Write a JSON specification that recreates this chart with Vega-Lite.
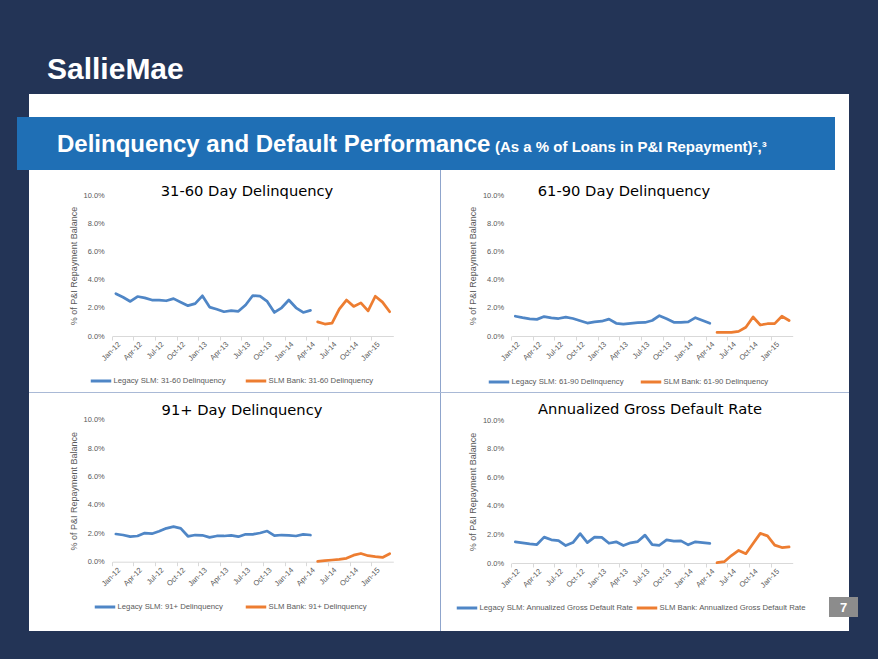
{
  "$schema": "https://vega.github.io/schema/vega-lite/v6.json",
  "background": "#233456",
  "padding": {"left": 17, "top": 55, "right": 20, "bottom": 28},
  "spacing": 0,
  "title": {"text": "SallieMae", "anchor": "start", "frame": "group", "dx": 30, "offset": 9, "fontSize": 30, "font": "Liberation Sans", "fontWeight": "bold", "color": "white"},
  "resolve": {"scale": {"color": "independent"}, "legend": {"color": "independent"}},
  "datasets": {
    "p1": [
      {"m":"Jan-12","s":"Legacy","v":3.0},{"m":"Feb-12","s":"Legacy","v":2.75},{"m":"Mar-12","s":"Legacy","v":2.45},{"m":"Apr-12","s":"Legacy","v":2.8},{"m":"May-12","s":"Legacy","v":2.7},{"m":"Jun-12","s":"Legacy","v":2.55},{"m":"Jul-12","s":"Legacy","v":2.55},{"m":"Aug-12","s":"Legacy","v":2.5},{"m":"Sep-12","s":"Legacy","v":2.65},{"m":"Oct-12","s":"Legacy","v":2.4},{"m":"Nov-12","s":"Legacy","v":2.15},{"m":"Dec-12","s":"Legacy","v":2.3},
      {"m":"Jan-13","s":"Legacy","v":2.85},{"m":"Feb-13","s":"Legacy","v":2.05},{"m":"Mar-13","s":"Legacy","v":1.9},{"m":"Apr-13","s":"Legacy","v":1.72},{"m":"May-13","s":"Legacy","v":1.8},{"m":"Jun-13","s":"Legacy","v":1.75},{"m":"Jul-13","s":"Legacy","v":2.2},{"m":"Aug-13","s":"Legacy","v":2.87},{"m":"Sep-13","s":"Legacy","v":2.82},{"m":"Oct-13","s":"Legacy","v":2.45},{"m":"Nov-13","s":"Legacy","v":1.67},{"m":"Dec-13","s":"Legacy","v":2.0},
      {"m":"Jan-14","s":"Legacy","v":2.55},{"m":"Feb-14","s":"Legacy","v":2.0},{"m":"Mar-14","s":"Legacy","v":1.67},{"m":"Apr-14","s":"Legacy","v":1.82},
      {"m":"May-14","s":"Bank","v":1.0},{"m":"Jun-14","s":"Bank","v":0.85},{"m":"Jul-14","s":"Bank","v":0.92},{"m":"Aug-14","s":"Bank","v":1.9},{"m":"Sep-14","s":"Bank","v":2.55},{"m":"Oct-14","s":"Bank","v":2.1},{"m":"Nov-14","s":"Bank","v":2.35},{"m":"Dec-14","s":"Bank","v":1.78},{"m":"Jan-15","s":"Bank","v":2.82},{"m":"Feb-15","s":"Bank","v":2.4},{"m":"Mar-15","s":"Bank","v":1.72}
    ],
    "p2": [
      {"m":"Jan-12","s":"Legacy","v":1.4},{"m":"Feb-12","s":"Legacy","v":1.3},{"m":"Mar-12","s":"Legacy","v":1.22},{"m":"Apr-12","s":"Legacy","v":1.18},{"m":"May-12","s":"Legacy","v":1.38},{"m":"Jun-12","s":"Legacy","v":1.28},{"m":"Jul-12","s":"Legacy","v":1.24},{"m":"Aug-12","s":"Legacy","v":1.34},{"m":"Sep-12","s":"Legacy","v":1.24},{"m":"Oct-12","s":"Legacy","v":1.08},{"m":"Nov-12","s":"Legacy","v":0.92},{"m":"Dec-12","s":"Legacy","v":1.0},
      {"m":"Jan-13","s":"Legacy","v":1.05},{"m":"Feb-13","s":"Legacy","v":1.2},{"m":"Mar-13","s":"Legacy","v":0.9},{"m":"Apr-13","s":"Legacy","v":0.85},{"m":"May-13","s":"Legacy","v":0.9},{"m":"Jun-13","s":"Legacy","v":0.95},{"m":"Jul-13","s":"Legacy","v":0.96},{"m":"Aug-13","s":"Legacy","v":1.1},{"m":"Sep-13","s":"Legacy","v":1.44},{"m":"Oct-13","s":"Legacy","v":1.22},{"m":"Nov-13","s":"Legacy","v":0.97},{"m":"Dec-13","s":"Legacy","v":0.97},
      {"m":"Jan-14","s":"Legacy","v":1.0},{"m":"Feb-14","s":"Legacy","v":1.3},{"m":"Mar-14","s":"Legacy","v":1.1},{"m":"Apr-14","s":"Legacy","v":0.9},
      {"m":"May-14","s":"Bank","v":0.25},{"m":"Jun-14","s":"Bank","v":0.25},{"m":"Jul-14","s":"Bank","v":0.26},{"m":"Aug-14","s":"Bank","v":0.33},{"m":"Sep-14","s":"Bank","v":0.62},{"m":"Oct-14","s":"Bank","v":1.35},{"m":"Nov-14","s":"Bank","v":0.78},{"m":"Dec-14","s":"Bank","v":0.87},{"m":"Jan-15","s":"Bank","v":0.88},{"m":"Feb-15","s":"Bank","v":1.4},{"m":"Mar-15","s":"Bank","v":1.1}
    ],
    "p3": [
      {"m":"Jan-12","s":"Legacy","v":1.95},{"m":"Feb-12","s":"Legacy","v":1.88},{"m":"Mar-12","s":"Legacy","v":1.76},{"m":"Apr-12","s":"Legacy","v":1.81},{"m":"May-12","s":"Legacy","v":2.02},{"m":"Jun-12","s":"Legacy","v":1.97},{"m":"Jul-12","s":"Legacy","v":2.14},{"m":"Aug-12","s":"Legacy","v":2.35},{"m":"Sep-12","s":"Legacy","v":2.47},{"m":"Oct-12","s":"Legacy","v":2.35},{"m":"Nov-12","s":"Legacy","v":1.79},{"m":"Dec-12","s":"Legacy","v":1.88},
      {"m":"Jan-13","s":"Legacy","v":1.86},{"m":"Feb-13","s":"Legacy","v":1.71},{"m":"Mar-13","s":"Legacy","v":1.81},{"m":"Apr-13","s":"Legacy","v":1.81},{"m":"May-13","s":"Legacy","v":1.86},{"m":"Jun-13","s":"Legacy","v":1.76},{"m":"Jul-13","s":"Legacy","v":1.93},{"m":"Aug-13","s":"Legacy","v":1.93},{"m":"Sep-13","s":"Legacy","v":2.02},{"m":"Oct-13","s":"Legacy","v":2.16},{"m":"Nov-13","s":"Legacy","v":1.83},{"m":"Dec-13","s":"Legacy","v":1.88},
      {"m":"Jan-14","s":"Legacy","v":1.86},{"m":"Feb-14","s":"Legacy","v":1.81},{"m":"Mar-14","s":"Legacy","v":1.93},{"m":"Apr-14","s":"Legacy","v":1.88},
      {"m":"May-14","s":"Bank","v":0.02},{"m":"Jun-14","s":"Bank","v":0.07},{"m":"Jul-14","s":"Bank","v":0.12},{"m":"Aug-14","s":"Bank","v":0.17},{"m":"Sep-14","s":"Bank","v":0.24},{"m":"Oct-14","s":"Bank","v":0.46},{"m":"Nov-14","s":"Bank","v":0.58},{"m":"Dec-14","s":"Bank","v":0.42},{"m":"Jan-15","s":"Bank","v":0.35},{"m":"Feb-15","s":"Bank","v":0.3},{"m":"Mar-15","s":"Bank","v":0.56}
    ],
    "p4": [
      {"m":"Jan-12","s":"Legacy","v":1.48},{"m":"Feb-12","s":"Legacy","v":1.41},{"m":"Mar-12","s":"Legacy","v":1.34},{"m":"Apr-12","s":"Legacy","v":1.29},{"m":"May-12","s":"Legacy","v":1.81},{"m":"Jun-12","s":"Legacy","v":1.62},{"m":"Jul-12","s":"Legacy","v":1.57},{"m":"Aug-12","s":"Legacy","v":1.22},{"m":"Sep-12","s":"Legacy","v":1.43},{"m":"Oct-12","s":"Legacy","v":2.05},{"m":"Nov-12","s":"Legacy","v":1.43},{"m":"Dec-12","s":"Legacy","v":1.81},
      {"m":"Jan-13","s":"Legacy","v":1.79},{"m":"Feb-13","s":"Legacy","v":1.38},{"m":"Mar-13","s":"Legacy","v":1.48},{"m":"Apr-13","s":"Legacy","v":1.22},{"m":"May-13","s":"Legacy","v":1.41},{"m":"Jun-13","s":"Legacy","v":1.5},{"m":"Jul-13","s":"Legacy","v":1.95},{"m":"Aug-13","s":"Legacy","v":1.29},{"m":"Sep-13","s":"Legacy","v":1.24},{"m":"Oct-13","s":"Legacy","v":1.62},{"m":"Nov-13","s":"Legacy","v":1.53},{"m":"Dec-13","s":"Legacy","v":1.55},
      {"m":"Jan-14","s":"Legacy","v":1.27},{"m":"Feb-14","s":"Legacy","v":1.48},{"m":"Mar-14","s":"Legacy","v":1.43},{"m":"Apr-14","s":"Legacy","v":1.38},
      {"m":"May-14","s":"Bank","v":0.02},{"m":"Jun-14","s":"Bank","v":0.09},{"m":"Jul-14","s":"Bank","v":0.52},{"m":"Aug-14","s":"Bank","v":0.88},{"m":"Sep-14","s":"Bank","v":0.65},{"m":"Oct-14","s":"Bank","v":1.36},{"m":"Nov-14","s":"Bank","v":2.07},{"m":"Dec-14","s":"Bank","v":1.9},{"m":"Jan-15","s":"Bank","v":1.25},{"m":"Feb-15","s":"Bank","v":1.08},{"m":"Mar-15","s":"Bank","v":1.12}
    ]
  },
  "vconcat": [
    {
      "hconcat": [
        {"width": 12, "height": 23, "data": {"values": []}, "mark": "rect"},
        {"width": 820, "height": 23, "data": {"values": []}, "mark": "rect", "view": {"fill": "white", "stroke": null}}
      ],
      "spacing": 0, "bounds": "flush"
    },
    {
      "hconcat": [
        {"width": 476, "height": 53, "data": {"values": []}, "mark": "rect", "view": {"fill": "#1f6fb5", "stroke": null},
         "title": {"text": "Delinquency and Default Performance", "anchor": "start", "frame": "group", "dx": 40, "offset": -59, "baseline": "alphabetic", "font": "Liberation Sans", "fontSize": 24, "fontWeight": "bold", "color": "white"}},
        {"width": 342, "height": 53, "data": {"values": []}, "mark": "rect", "view": {"fill": "#1f6fb5", "stroke": null},
         "title": {"text": "(As a % of Loans in P&I Repayment)²,³", "anchor": "start", "frame": "group", "dx": 2, "offset": -49.7, "baseline": "alphabetic", "font": "Liberation Sans", "fontSize": 15, "fontWeight": "bold", "color": "white"}},
        {"width": 14, "height": 53, "data": {"values": []}, "mark": "rect", "view": {"fill": "white", "stroke": null}}
      ],
      "spacing": 0, "bounds": "flush"
    },
    {
      "hconcat": [
        {"width": 12, "height": 222, "data": {"values": []}, "mark": "rect"},
        {
          "width": 411, "height": 222,
          "view": {"fill": "white", "stroke": null},
          "title": {"text": "31-60 Day Delinquency", "anchor": "middle", "frame": "group", "dx": 12.5, "offset": -36.4, "baseline": "middle", "font": "DejaVu Sans", "fontSize": 14.7, "fontWeight": "normal", "color": "#000000"},
          "data": {"name": "p1"},
          "mark": {"type": "line", "strokeWidth": 2.75, "strokeJoin": "round", "strokeCap": "round"},
          "encoding": {
            "x": {"field": "m", "type": "ordinal",
                  "scale": {"type": "band", "domain": ["Jan-12","Feb-12","Mar-12","Apr-12","May-12","Jun-12","Jul-12","Aug-12","Sep-12","Oct-12","Nov-12","Dec-12","Jan-13","Feb-13","Mar-13","Apr-13","May-13","Jun-13","Jul-13","Aug-13","Sep-13","Oct-13","Nov-13","Dec-13","Jan-14","Feb-14","Mar-14","Apr-14","May-14","Jun-14","Jul-14","Aug-14","Sep-14","Oct-14","Nov-14","Dec-14","Jan-15","Feb-15","Mar-15"], "range": [83.3, 364.3], "paddingInner": 0, "paddingOuter": 0},
                  "axis": {"orient": "bottom", "offset": -56, "values": ["Jan-12","Apr-12","Jul-12","Oct-12","Jan-13","Apr-13","Jul-13","Oct-13","Jan-14","Apr-14","Jul-14","Oct-14","Jan-15"], "bandPosition": 0, "labelOffset": 3.6, "labelAngle": -45, "labelAlign": "right", "labelBaseline": "middle", "labelPadding": 3, "tickSize": 4, "labelOverlap": false, "title": null}},
            "y": {"field": "v", "type": "quantitative",
                  "scale": {"domain": [0, 10], "range": [166, 25], "nice": false},
                  "axis": {"orient": "left", "offset": -83.3, "values": [0, 2, 4, 6, 8, 10], "labelExpr": "format(datum.value, '.1f') + '%'", "ticks": false, "domain": false, "labelPadding": 8, "title": "% of P&I Repayment Balance", "titlePadding": 5}},
            "color": {"field": "s", "type": "nominal",
                      "scale": {"domain": ["Legacy", "Bank"], "range": ["#4f86c6", "#ed7d31"]},
                      "legend": {"orient": "none", "legendX": 60, "legendY": 199, "direction": "horizontal", "title": null, "columnPadding": 13, "labelExpr": "datum.label == 'Legacy' ? 'Legacy SLM: 31-60 Delinquency' : 'SLM Bank: 31-60 Delinquency'"}}
          }
        },
        {"width": 1, "height": 222, "data": {"values": []}, "mark": "rect", "view": {"fill": "#8fa5cc", "stroke": null}},
        {
          "width": 408, "height": 222,
          "view": {"fill": "white", "stroke": null},
          "title": {"text": "61-90 Day Delinquency", "anchor": "middle", "frame": "group", "dx": -21, "offset": -36.4, "baseline": "middle", "font": "DejaVu Sans", "fontSize": 14.7, "fontWeight": "normal", "color": "#000000"},
          "data": {"name": "p2"},
          "mark": {"type": "line", "strokeWidth": 2.75, "strokeJoin": "round", "strokeCap": "round"},
          "encoding": {
            "x": {"field": "m", "type": "ordinal",
                  "scale": {"type": "band", "domain": ["Jan-12","Feb-12","Mar-12","Apr-12","May-12","Jun-12","Jul-12","Aug-12","Sep-12","Oct-12","Nov-12","Dec-12","Jan-13","Feb-13","Mar-13","Apr-13","May-13","Jun-13","Jul-13","Aug-13","Sep-13","Oct-13","Nov-13","Dec-13","Jan-14","Feb-14","Mar-14","Apr-14","May-14","Jun-14","Jul-14","Aug-14","Sep-14","Oct-14","Nov-14","Dec-14","Jan-15","Feb-15","Mar-15"], "range": [70.7, 351.7], "paddingInner": 0, "paddingOuter": 0},
                  "axis": {"orient": "bottom", "offset": -56, "values": ["Jan-12","Apr-12","Jul-12","Oct-12","Jan-13","Apr-13","Jul-13","Oct-13","Jan-14","Apr-14","Jul-14","Oct-14","Jan-15"], "bandPosition": 0, "labelOffset": 3.6, "labelAngle": -45, "labelAlign": "right", "labelBaseline": "middle", "labelPadding": 3, "tickSize": 4, "labelOverlap": false, "title": null}},
            "y": {"field": "v", "type": "quantitative",
                  "scale": {"domain": [0, 10], "range": [166, 25], "nice": false},
                  "axis": {"orient": "left", "offset": -70.7, "values": [0, 2, 4, 6, 8, 10], "labelExpr": "format(datum.value, '.1f') + '%'", "ticks": false, "domain": false, "labelPadding": 8, "title": "% of P&I Repayment Balance", "titlePadding": 5}},
            "color": {"field": "s", "type": "nominal",
                      "scale": {"domain": ["Legacy", "Bank"], "range": ["#4f86c6", "#ed7d31"]},
                      "legend": {"orient": "none", "legendX": 46, "legendY": 200, "direction": "horizontal", "title": null, "columnPadding": 10, "labelExpr": "datum.label == 'Legacy' ? 'Legacy SLM: 61-90 Delinquency' : 'SLM Bank: 61-90 Delinquency'"}}
          }
        }
      ],
      "spacing": 0, "bounds": "flush",
      "resolve": {"scale": {"color": "independent"}, "legend": {"color": "independent"}}
    },
    {
      "hconcat": [
        {"width": 12, "height": 1, "data": {"values": []}, "mark": "rect"},
        {"width": 820, "height": 1, "data": {"values": []}, "mark": "rect", "view": {"fill": "#a9b9d6", "stroke": null}}
      ],
      "spacing": 0, "bounds": "flush"
    },
    {
      "hconcat": [
        {"width": 12, "height": 238, "data": {"values": []}, "mark": "rect"},
        {
          "width": 411, "height": 238,
          "view": {"fill": "white", "stroke": null},
          "title": {"text": "91+ Day Delinquency", "anchor": "middle", "frame": "group", "dx": 7.5, "offset": -32.2, "baseline": "middle", "font": "DejaVu Sans", "fontSize": 14.7, "fontWeight": "normal", "color": "#000000"},
          "data": {"name": "p3"},
          "mark": {"type": "line", "strokeWidth": 2.75, "strokeJoin": "round", "strokeCap": "round"},
          "encoding": {
            "x": {"field": "m", "type": "ordinal",
                  "scale": {"type": "band", "domain": ["Jan-12","Feb-12","Mar-12","Apr-12","May-12","Jun-12","Jul-12","Aug-12","Sep-12","Oct-12","Nov-12","Dec-12","Jan-13","Feb-13","Mar-13","Apr-13","May-13","Jun-13","Jul-13","Aug-13","Sep-13","Oct-13","Nov-13","Dec-13","Jan-14","Feb-14","Mar-14","Apr-14","May-14","Jun-14","Jul-14","Aug-14","Sep-14","Oct-14","Nov-14","Dec-14","Jan-15","Feb-15","Mar-15"], "range": [83.3, 364.3], "paddingInner": 0, "paddingOuter": 0},
                  "axis": {"orient": "bottom", "offset": -69.3, "values": ["Jan-12","Apr-12","Jul-12","Oct-12","Jan-13","Apr-13","Jul-13","Oct-13","Jan-14","Apr-14","Jul-14","Oct-14","Jan-15"], "bandPosition": 0, "labelOffset": 3.6, "labelAngle": -45, "labelAlign": "right", "labelBaseline": "middle", "labelPadding": 3, "tickSize": 4, "labelOverlap": false, "title": null}},
            "y": {"field": "v", "type": "quantitative",
                  "scale": {"domain": [0, 10], "range": [168.7, 26.7], "nice": false},
                  "axis": {"orient": "left", "offset": -83.3, "values": [0, 2, 4, 6, 8, 10], "labelExpr": "format(datum.value, '.1f') + '%'", "ticks": false, "domain": false, "labelPadding": 8, "title": "% of P&I Repayment Balance", "titlePadding": 5}},
            "color": {"field": "s", "type": "nominal",
                      "scale": {"domain": ["Legacy", "Bank"], "range": ["#4f86c6", "#ed7d31"]},
                      "legend": {"orient": "none", "legendX": 64, "legendY": 202, "direction": "horizontal", "title": null, "columnPadding": 16, "labelExpr": "datum.label == 'Legacy' ? 'Legacy SLM: 91+ Delinquency' : 'SLM Bank: 91+ Delinquency'"}}
          }
        },
        {"width": 1, "height": 238, "data": {"values": []}, "mark": "rect", "view": {"fill": "#8fa5cc", "stroke": null}},
        {
          "width": 388, "height": 238,
          "view": {"fill": "white", "stroke": null},
          "title": {"text": "Annualized Gross Default Rate", "anchor": "middle", "frame": "group", "dx": 15, "offset": -31.7, "baseline": "middle", "font": "DejaVu Sans", "fontSize": 14.7, "fontWeight": "normal", "color": "#000000"},
          "data": {"name": "p4"},
          "mark": {"type": "line", "strokeWidth": 2.75, "strokeJoin": "round", "strokeCap": "round"},
          "encoding": {
            "x": {"field": "m", "type": "ordinal",
                  "scale": {"type": "band", "domain": ["Jan-12","Feb-12","Mar-12","Apr-12","May-12","Jun-12","Jul-12","Aug-12","Sep-12","Oct-12","Nov-12","Dec-12","Jan-13","Feb-13","Mar-13","Apr-13","May-13","Jun-13","Jul-13","Aug-13","Sep-13","Oct-13","Nov-13","Dec-13","Jan-14","Feb-14","Mar-14","Apr-14","May-14","Jun-14","Jul-14","Aug-14","Sep-14","Oct-14","Nov-14","Dec-14","Jan-15","Feb-15","Mar-15"], "range": [70.7, 351.7], "paddingInner": 0, "paddingOuter": 0},
                  "axis": {"orient": "bottom", "offset": -68, "values": ["Jan-12","Apr-12","Jul-12","Oct-12","Jan-13","Apr-13","Jul-13","Oct-13","Jan-14","Apr-14","Jul-14","Oct-14","Jan-15"], "bandPosition": 0, "labelOffset": 3.6, "labelAngle": -45, "labelAlign": "right", "labelBaseline": "middle", "labelPadding": 3, "tickSize": 4, "labelOverlap": false, "title": null}},
            "y": {"field": "v", "type": "quantitative",
                  "scale": {"domain": [0, 10], "range": [170, 27], "nice": false},
                  "axis": {"orient": "left", "offset": -70.7, "values": [0, 2, 4, 6, 8, 10], "labelExpr": "format(datum.value, '.1f') + '%'", "ticks": false, "domain": false, "labelPadding": 8, "title": "% of P&I Repayment Balance", "titlePadding": 5}},
            "color": {"field": "s", "type": "nominal",
                      "scale": {"domain": ["Legacy", "Bank"], "range": ["#4f86c6", "#ed7d31"]},
                      "legend": {"orient": "none", "legendX": 14, "legendY": 203, "direction": "horizontal", "title": null, "columnPadding": -4, "labelExpr": "datum.label == 'Legacy' ? 'Legacy SLM: Annualized Gross Default Rate' : 'SLM Bank: Annualized Gross Default Rate'"}}
          }
        },
        {
          "vconcat": [
            {"hconcat": [
              {"width": 20, "height": 204, "data": {"values": []}, "mark": "rect", "view": {"fill": "white", "stroke": null}},
              {"width": 9, "height": 204, "data": {"values": []}, "mark": "rect"}
            ], "spacing": 0, "bounds": "flush"},
            {"width": 29, "height": 20, "data": {"values": []}, "mark": "rect", "view": {"fill": "#8c8c8c", "stroke": null},
             "title": {"text": "7", "anchor": "middle", "frame": "group", "offset": -23.9, "baseline": "middle", "font": "Liberation Sans", "fontSize": 13, "fontWeight": "bold", "color": "white"}},
            {"hconcat": [
              {"width": 20, "height": 14, "data": {"values": []}, "mark": "rect", "view": {"fill": "white", "stroke": null}},
              {"width": 9, "height": 14, "data": {"values": []}, "mark": "rect"}
            ], "spacing": 0, "bounds": "flush"}
          ],
          "spacing": 0
        }
      ],
      "spacing": 0,
      "resolve": {"scale": {"color": "independent"}, "legend": {"color": "independent"}}
    }
  ],
  "config": {
    "view": {"stroke": null},
    "concat": {"spacing": 0},
    "axis": {"labelFont": "Liberation Sans", "labelFontSize": 7.5, "labelColor": "#595959", "titleFont": "Liberation Sans", "titleFontSize": 9, "titleFontWeight": "normal", "titleColor": "#595959", "domainColor": "#d9d9d9", "tickColor": "#d9d9d9", "grid": false},
    "legend": {"labelFont": "Liberation Sans", "labelFontSize": 7.75, "labelColor": "#595959", "labelLimit": 300, "symbolType": "stroke", "symbolSize": 420, "symbolStrokeWidth": 3, "labelOffset": 0.5}
  }
}
